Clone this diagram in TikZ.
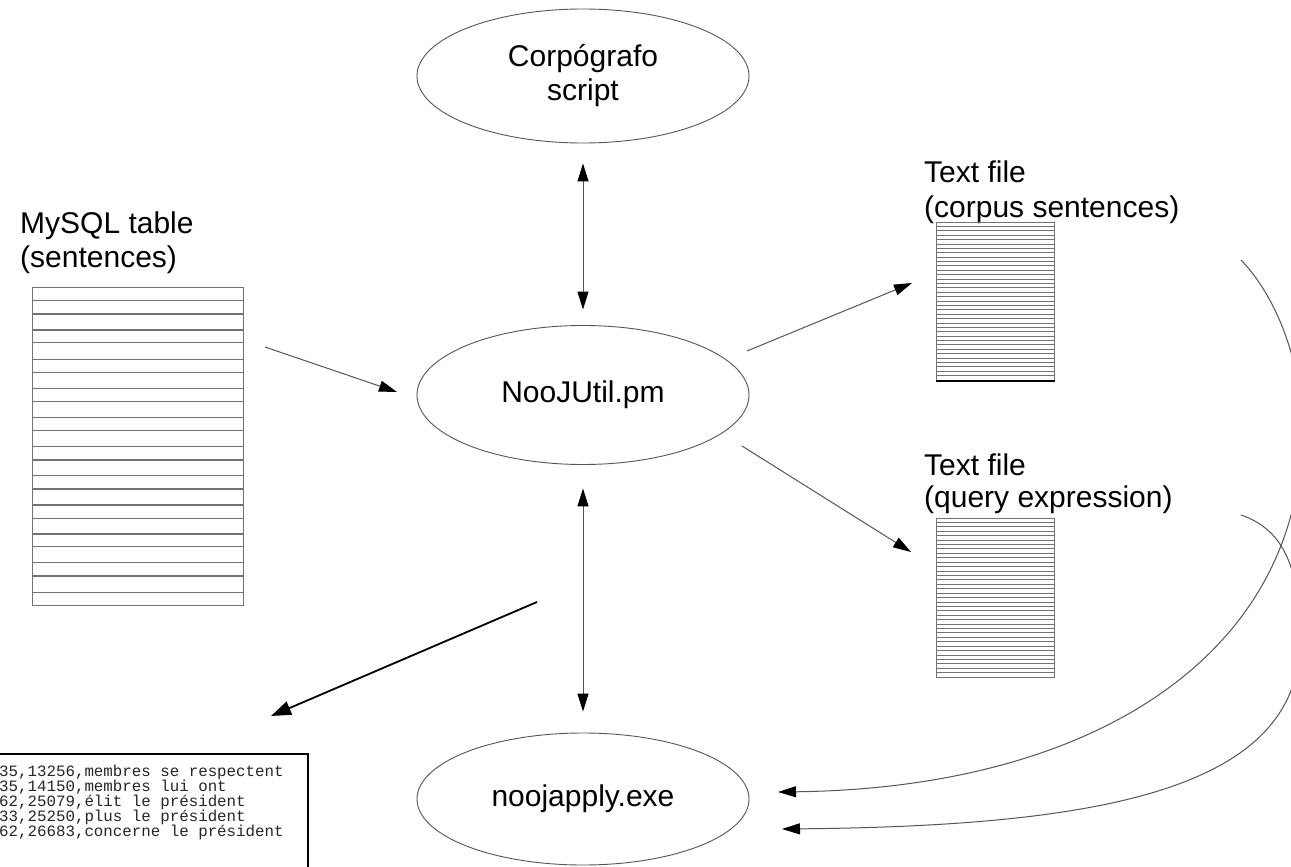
\documentclass[tikz,border=0pt]{standalone}
\usepackage{fontspec}
\setmainfont{Liberation Sans}
\newfontfamily\monofnt{Liberation Mono}
\usetikzlibrary{shapes.geometric,arrows.meta}
\definecolor{lgray}{RGB}{85,85,85}
\definecolor{rgray}{RGB}{115,115,115}
\newcommand\lblsize{\fontsize{30}{34}\selectfont}
\newcommand\ttsize{\monofnt\fontsize{15.8}{15}\selectfont}
\begin{document}
\begin{tikzpicture}[x=1pt,y=-1pt,
  ln/.style={draw=lgray,line width=1pt},
  tip/.style={-{Triangle[length=18pt,width=11pt,color=black]}},
  dbl/.style={{Triangle[length=18pt,width=11pt,color=black]}-{Triangle[length=18pt,width=11pt,color=black]}},
  ell/.style={ellipse,draw=lgray,line width=0.9pt,minimum width=332pt,inner sep=0pt,align=center,font=\lblsize},
  lbl/.style={anchor=base west,inner sep=0pt,font=\lblsize},
  outline/.style={anchor=base west,inner sep=0pt,font=\ttsize,text=black!85},
  filebox/.style={draw=rgray,line width=1.2pt,anchor=north west,inner sep=0pt,minimum width=118pt,minimum height=158pt}]
\useasboundingbox (0,0) rectangle (1291,867);
\clip (0,0) rectangle (1291,867);
\fill[white] (0,0) rectangle (1291,867);

% ellipses
\node[ell,minimum height=134pt] (cor) at (583,76) {Corpógrafo\\script};
\node[ell,minimum height=139pt] (nju) at (583,395) {NooJUtil.pm};
\node[ell,minimum height=132pt] (noo) at (583,799) {noojapply.exe};

% MySQL table
\node[lbl] (mysqla) at (20,233) {MySQL table};
\node[lbl] (mysqlb) at (20,267) {(sentences)};
\node[draw=rgray,line width=1.3pt,anchor=north west,inner sep=0pt,minimum width=211pt,minimum height=318pt] (tbl) at (32,287) {};
\foreach \yy in {300.7,314,330,342.7,359.3,372.3,388.3,401.7,417.3,430.7,446.7,460,475.7,489,505,518.3,534,546.7,562.7,576,592.7}
  \draw[rgray,line width=1.3pt] (32,\yy) -- (243,\yy);

% text file 1
\node[lbl] (tfa1) at (924,182) {Text file};
\node[lbl] (tfa2) at (924,217) {(corpus sentences)};
\node[filebox] (tf1) at (936,222) {};
\foreach \i in {1,...,35}
  \draw[rgray,line width=0.9pt] (936,{222+\i*4.39}) -- (1054,{222+\i*4.39});
\draw[black,line width=1.5pt] (tf1.south west) -- (tf1.south east);

% text file 2
\node[lbl] (tfb1) at (924,475) {Text file};
\node[lbl] (tfb2) at (924,507) {(query expression)};
\node[filebox,minimum height=159pt] (tf2) at (936,518) {};
\foreach \i in {1,...,35}
  \draw[rgray,line width=0.9pt] (936,{518+\i*4.42}) -- (1054,{518+\i*4.42});

% output box
\node[draw=black,line width=1.5pt,anchor=north west,inner sep=0pt,minimum width=320pt,minimum height=140pt] (out) at (-13,753) {};
\node[outline] (o1) at (-1,776) {35,13256,membres se respectent};
\node[outline] (o2) at (-1,791) {35,14150,membres lui ont};
\node[outline] (o3) at (-1,806) {62,25079,élit le président};
\node[outline] (o4) at (-1,821) {33,25250,plus le président};
\node[outline] (o5) at (-1,836) {62,26683,concerne le président};

% connectors
\draw[ln,dbl,shorten <=20pt,shorten >=15.5pt] (cor.south) -- (nju.north);
\draw[ln,dbl,shorten <=23.5pt,shorten >=21pt] (nju.south) -- (noo.north);

\coordinate (m1) at (265,347);
\coordinate (m2) at (397,392);
\draw[ln,tip] (m1) -- (m2);

\coordinate (t1s) at (747,351);
\coordinate (t1e) at (912,283);
\draw[ln,tip] (t1s) -- (t1e);

\coordinate (t2s) at (742,446);
\coordinate (t2e) at (911,552);
\draw[ln,tip] (t2s) -- (t2e);

\coordinate (os) at (537,602);
\coordinate (oe) at (271,716);
\draw[black,line width=1.8pt,-{Triangle[length=20pt,width=14pt,color=black]}] (os) -- (oe);

\coordinate (c1s) at (1241,260);
\coordinate (c1m) at (1302,430);
\coordinate (c1e) at (778,792);
\draw[ln,tip] (c1s) .. controls (1275,295) and (1302,360) .. (c1m) .. controls (1302,650) and (1100,788) .. (c1e);

\coordinate (c2s) at (1241,515);
\coordinate (c2m) at (1300,640);
\coordinate (c2e) at (782,829);
\draw[ln,tip] (c2s) .. controls (1285,530) and (1300,570) .. (c2m) .. controls (1300,790) and (1100,826) .. (c2e);
\end{tikzpicture}
\end{document}
